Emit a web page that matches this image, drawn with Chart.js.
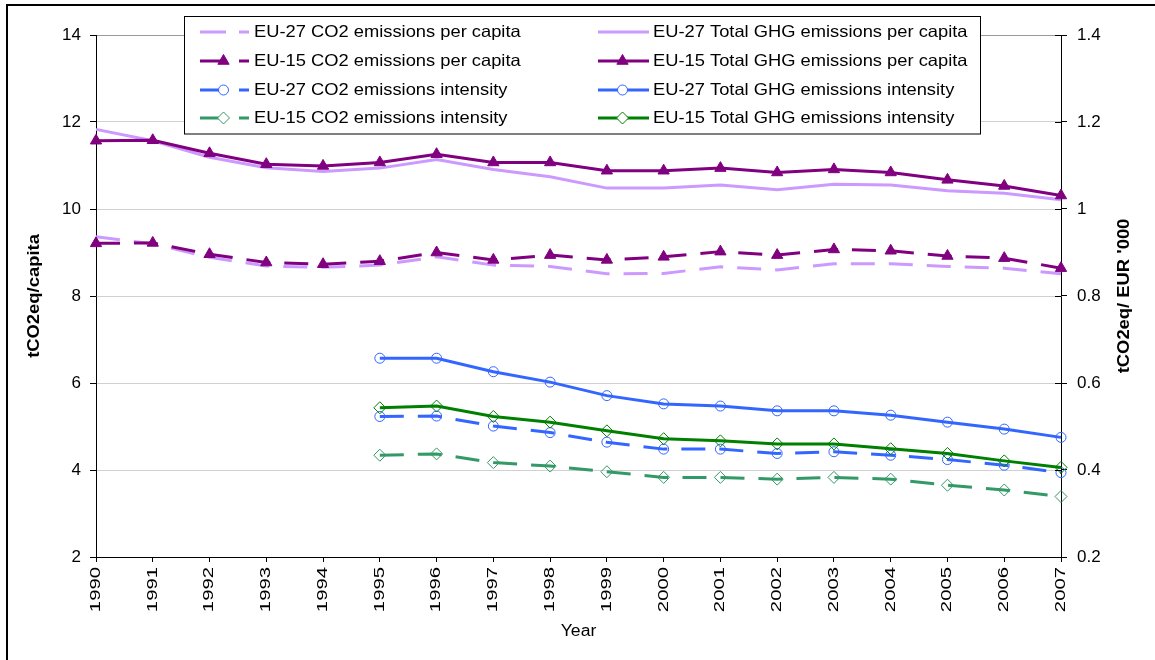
<!DOCTYPE html>
<html>
<head>
<meta charset="utf-8">
<script src="https://cdn.jsdelivr.net/npm/chart.js@4.4.0/dist/chart.umd.min.js"></script>
<style>
  html, body { margin: 0; padding: 0; background: #fff; }
  #wrap { width: 1155px; height: 660px; position: relative; }
</style>
</head>
<body>
<div id="wrap"><canvas id="c" width="1155" height="660"></canvas></div>
<script>
// ---- data ----
const years = ['1990','1991','1992','1993','1994','1995','1996','1997','1998','1999','2000','2001','2002','2003','2004','2005','2006','2007'];

const eu27Co2PerCapita = [9.36, 9.20, 8.89, 8.69, 8.66, 8.71, 8.90, 8.71, 8.68, 8.51, 8.52, 8.67, 8.60, 8.74, 8.74, 8.68, 8.64, 8.51];
const eu27GhgPerCapita = [11.83, 11.57, 11.19, 10.95, 10.86, 10.94, 11.14, 10.91, 10.74, 10.48, 10.48, 10.55, 10.44, 10.57, 10.55, 10.42, 10.36, 10.21];
const eu15Co2PerCapita = [9.21, 9.22, 8.96, 8.77, 8.73, 8.80, 9.00, 8.83, 8.94, 8.83, 8.90, 9.02, 8.94, 9.07, 9.04, 8.92, 8.87, 8.64];
const eu15GhgPerCapita = [11.57, 11.58, 11.28, 11.03, 10.99, 11.07, 11.26, 11.07, 11.07, 10.88, 10.88, 10.94, 10.84, 10.91, 10.84, 10.67, 10.53, 10.31];

const eu27Co2Intensity = [null, null, null, null, null, 0.523, 0.524, 0.501, 0.486, 0.464, 0.448, 0.448, 0.438, 0.442, 0.434, 0.424, 0.411, 0.394];
const eu27GhgIntensity = [null, null, null, null, null, 0.657, 0.657, 0.626, 0.602, 0.571, 0.552, 0.547, 0.536, 0.536, 0.526, 0.510, 0.494, 0.475];
const eu15Co2Intensity = [null, null, null, null, null, 0.434, 0.437, 0.417, 0.409, 0.396, 0.383, 0.383, 0.379, 0.383, 0.379, 0.365, 0.354, 0.339];
const eu15GhgIntensity = [null, null, null, null, null, 0.543, 0.547, 0.523, 0.510, 0.490, 0.472, 0.467, 0.460, 0.460, 0.449, 0.438, 0.421, 0.406];

const leftTicks = [2, 4, 6, 8, 10, 12, 14];
const rightTicks = [0.2, 0.4, 0.6, 0.8, 1.0, 1.2, 1.4];

const seriesLabels = [
  'EU-27 CO2 emissions per capita', 'EU-27 Total GHG emissions per capita',
  'EU-15 CO2 emissions per capita', 'EU-15 Total GHG emissions per capita',
  'EU-27 CO2 emissions intensity', 'EU-27 Total GHG emissions intensity',
  'EU-15 CO2 emissions intensity', 'EU-15 Total GHG emissions intensity'
];
const leftTitle = 'tCO2eq/capita';
const rightTitle = "tCO2eq/ EUR '000";
const xTitle = 'Year';

// ---- styles ----
const LAV = '#cc99ff', PUR = '#800080', BLU = '#3366ff', GRN = '#008000', SEA = '#339966';
const DASH = [24, 14];
const FONT = '"Liberation Sans", Arial, sans-serif';

function ds(label, data, color, dashed, axis, style, idx) {
  const o = {
    label, data, yAxisID: axis,
    borderColor: color, borderWidth: 3, borderDash: dashed ? DASH : [],
    tension: 0, fill: false, clip: false, spanGaps: false,
    order: 10 - idx,
    pointRadius: 0, pointHoverRadius: 0,
    _dashed: dashed
  };
  if (style === 'triangle') {
    Object.assign(o, { pointStyle: 'triangle', pointRadius: 6.5, pointBackgroundColor: color, pointBorderColor: color, pointBorderWidth: 1 });
  } else if (style === 'circle') {
    Object.assign(o, { pointStyle: 'circle', pointRadius: 5, pointBackgroundColor: 'rgba(0,0,0,0)', pointBorderColor: color, pointBorderWidth: 1 });
  } else if (style === 'diamond') {
    Object.assign(o, { pointStyle: 'rectRot', pointRadius: 6, pointBackgroundColor: 'rgba(0,0,0,0)', pointBorderColor: color, pointBorderWidth: 1 });
  }
  o._marker = style;
  return o;
}

const datasets = [
  ds(seriesLabels[0], eu27Co2PerCapita, LAV, true, 'y', null, 0),
  ds(seriesLabels[1], eu27GhgPerCapita, LAV, false, 'y', null, 1),
  ds(seriesLabels[2], eu15Co2PerCapita, PUR, true, 'y', 'triangle', 2),
  ds(seriesLabels[3], eu15GhgPerCapita, PUR, false, 'y', 'triangle', 3),
  ds(seriesLabels[4], eu27Co2Intensity, BLU, true, 'y1', 'circle', 4),
  ds(seriesLabels[5], eu27GhgIntensity, BLU, false, 'y1', 'circle', 5),
  ds(seriesLabels[6], eu15Co2Intensity, SEA, true, 'y1', 'diamond', 6),
  ds(seriesLabels[7], eu15GhgIntensity, GRN, false, 'y1', 'diamond', 7)
];

function stretchedText(ctx, text, x, y, rot, sx, font, align) {
  ctx.save();
  ctx.translate(x, y);
  if (rot) ctx.rotate(rot);
  ctx.scale(sx, 1);
  ctx.font = font;
  ctx.textAlign = align || 'center';
  ctx.textBaseline = 'middle';
  ctx.fillStyle = '#000';
  ctx.fillText(text, 0, 0);
  ctx.restore();
}

const decor = {
  id: 'decor',
  beforeDraw(chart) {
    const ctx = chart.ctx;
    ctx.save();
    ctx.fillStyle = '#fff';
    ctx.fillRect(0, 0, chart.width, chart.height);
    ctx.strokeStyle = '#000';
    ctx.lineWidth = 2;
    ctx.beginPath();
    ctx.moveTo(7, chart.height + 5);
    ctx.lineTo(7, 5);
    ctx.lineTo(chart.width + 5, 5);
    ctx.stroke();
    ctx.restore();
  },
  afterDraw(chart) {
    const ctx = chart.ctx;
    const xs = chart.scales.x, y1 = chart.scales.y1, ca = chart.chartArea;
    // right axis inner half of crossing ticks
    ctx.save();
    ctx.strokeStyle = '#000';
    ctx.lineWidth = 1;
    rightTicks.forEach(v => {
      const py = Math.round(y1.getPixelForValue(v)) + 0.5;
      ctx.beginPath();
      ctx.moveTo(ca.right - 6, py);
      ctx.lineTo(ca.right, py);
      ctx.stroke();
    });
    ctx.restore();
    // rotated year labels (reading bottom-to-top)
    years.forEach((lab, i) => {
      const px = xs.getPixelForValue(i);
      stretchedText(ctx, lab, px, xs.top + 10, -Math.PI / 2, 1.45, '14px ' + FONT, 'right');
    });
    // axis titles
    stretchedText(ctx, xTitle, (ca.left + ca.right) / 2, 632, 0, 1.1, '16px ' + FONT, 'center');
    stretchedText(ctx, leftTitle, 35, (ca.top + ca.bottom) / 2, -Math.PI / 2, 1.15, 'bold 16px ' + FONT, 'center');
    stretchedText(ctx, rightTitle, 1125, (ca.top + ca.bottom) / 2, -Math.PI / 2, 1.15, 'bold 16px ' + FONT, 'center');

    // legend box
    ctx.save();
    ctx.fillStyle = '#fff';
    ctx.fillRect(184.5, 16.5, 796, 117.5);
    ctx.strokeStyle = '#000';
    ctx.lineWidth = 1;
    ctx.strokeRect(184.5, 16.5, 796, 117.5);
    ctx.restore();
    const rowsY = [32, 61, 90, 118];
    const cols = [{ x0: 200, x1: 249, tx: 254 }, { x0: 598, x1: 649, tx: 653 }];
    datasets.forEach((d, i) => {
      const col = cols[i % 2], y = rowsY[Math.floor(i / 2)];
      ctx.save();
      ctx.strokeStyle = d.borderColor;
      ctx.lineWidth = 3;
      ctx.setLineDash(d._dashed ? [26, 13] : []);
      ctx.beginPath();
      ctx.moveTo(col.x0, y);
      ctx.lineTo(col.x1, y);
      ctx.stroke();
      ctx.setLineDash([]);
      if (d._marker) {
        const mx = (col.x0 + col.x1) / 2 - 1;
        ctx.lineWidth = 1;
        ctx.strokeStyle = d.pointBorderColor;
        ctx.fillStyle = d._marker === 'triangle' ? d.pointBackgroundColor : '#fff';
        Chart.helpers.drawPoint(ctx, { pointStyle: d.pointStyle, radius: d.pointRadius, borderWidth: 1, rotation: 0 }, mx, y);
      }
      ctx.restore();
      stretchedText(ctx, d.label, col.tx, y, 0, 1.11, '16.5px ' + FONT, 'left');
    });
  }
};

new Chart(document.getElementById('c'), {
  type: 'line',
  data: { labels: years, datasets },
  options: {
    responsive: false,
    animation: false,
    devicePixelRatio: 1,
    layout: { padding: { top: 35, left: 0, right: 0, bottom: 0 } },
    plugins: { legend: { display: false }, tooltip: { enabled: false } },
    events: [],
    scales: {
      x: {
        type: 'category',
        offset: false,
        afterFit: s => { s.height = 103; },
        grid: { drawOnChartArea: false, drawTicks: true, tickLength: 5, tickColor: '#000', color: '#000' },
        border: { display: true, color: '#000', width: 1 },
        ticks: { display: false }
      },
      y: {
        position: 'left',
        min: 2, max: 14,
        afterBuildTicks: s => { s.ticks = leftTicks.map(v => ({ value: v })); },
        afterFit: s => { s.width = 96; },
        grid: {
          color: c => (c.tick && c.tick.value === 14 ? '#9a9a9a' : '#d0d0d0'),
          lineWidth: 1, tickLength: 6, tickColor: '#000', drawTicks: true
        },
        border: { display: true, color: '#000', width: 1 },
        ticks: { color: '#000', font: { family: FONT, size: 17 }, padding: 9 }
      },
      y1: {
        position: 'right',
        min: 0.2, max: 1.4,
        afterBuildTicks: s => { s.ticks = rightTicks.map(v => ({ value: v })); },
        afterFit: s => { s.width = 94; },
        grid: { drawOnChartArea: false, tickLength: 6, tickColor: '#000', drawTicks: true },
        border: { display: true, color: '#000', width: 1 },
        ticks: { color: '#000', font: { family: FONT, size: 17 }, padding: 10,
                 callback: v => String(Math.round(v * 10) / 10) }
      }
    }
  },
  plugins: [decor]
});
</script>
</body>
</html>
